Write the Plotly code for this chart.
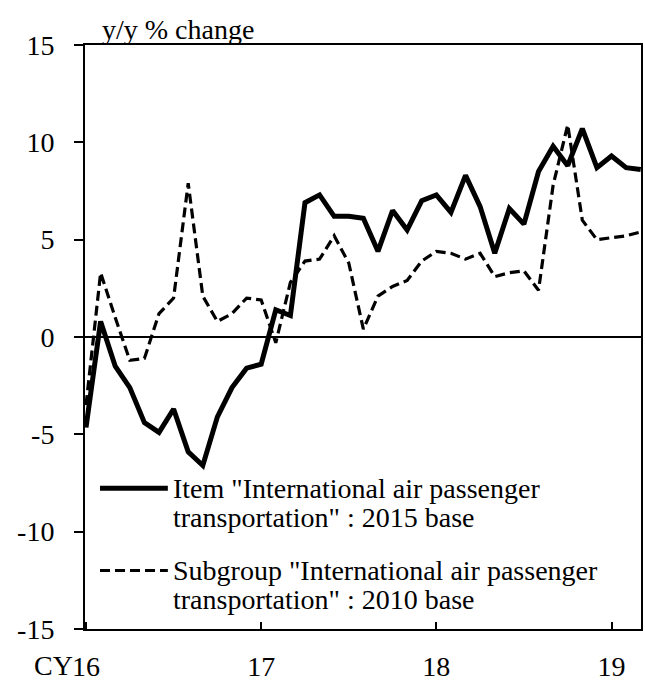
import plotly.graph_objects as go

# Monthly index: 0 = Jan 2016 ... 38 = Mar 2019
months = list(range(39))

item_2015 = [-4.65, 0.8, -1.5, -2.6, -4.4, -4.9, -3.7, -5.9, -6.6, -4.1,
             -2.6, -1.6, -1.4, 1.4, 1.1, 6.9, 7.3, 6.2, 6.2, 6.1,
             4.4, 6.5, 5.5, 7.0, 7.3, 6.4, 8.3, 6.7, 4.3, 6.6,
             5.8, 8.5, 9.8, 8.8, 10.7, 8.7, 9.3, 8.7, 8.6]

subgroup_2010 = [-3.5, 3.3, 1.0, -1.2, -1.1, 1.2, 2.0, 7.9, 2.1, 0.8,
                 1.2, 2.0, 1.9, -0.3, 2.8, 3.9, 4.0, 5.2, 3.8, 0.4,
                 2.1, 2.6, 2.9, 3.9, 4.4, 4.3, 4.0, 4.3, 3.1, 3.3,
                 3.4, 2.4, 7.8, 10.9, 6.0, 5.0, 5.1, 5.2, 5.4]

x_tickvals = [0, 12, 24, 36]
x_ticktext = ["16", "17", "18", "19"]
y_tickvals = [-15, -10, -5, 0, 5, 10, 15]
y_ticktext = ["-15", "-10", "-5", "0", "5", "10", "15"]

legend_item = ['Item "International air passenger', 'transportation" : 2015 base']
legend_sub = ['Subgroup "International air passenger', 'transportation" : 2010 base']

FONT = "Liberation Serif"
FS = 28

fig = go.Figure()
fig.add_trace(go.Scatter(x=months, y=item_2015, mode="lines",
                         name=" ".join(legend_item),
                         line=dict(color="black", width=5)))
fig.add_trace(go.Scatter(x=months, y=subgroup_2010, mode="lines",
                         name=" ".join(legend_sub),
                         line=dict(color="black", width=3.2, dash="10px,5px")))

# Manual legend (sample lines + two-line labels) inside the plot area
legend_rows = [(legend_item, 0.2411, 0.1902, "solid", 5),
               (legend_sub, 0.1002, 0.0509, "10px,5px", 3.2)]
annotations = [
    dict(text="y/y % change", xref="paper", yref="paper", x=0.027, y=1,
         xanchor="left", yanchor="bottom", showarrow=False,
         font=dict(size=FS), yshift=-2),
    dict(text="CY", xref="x", yref="paper", x=0, y=0,
         xanchor="right", yanchor="top", showarrow=False,
         font=dict(size=FS), xshift=-11, yshift=-19),
]
shapes = []
for lines, y1, y2, dash, w in legend_rows:
    shapes.append(dict(type="line", xref="paper", yref="paper",
                       x0=0.027, x1=0.149, y0=y1, y1=y1,
                       line=dict(color="black", width=w, dash=dash)))
    for txt, yy in zip(lines, (y1, y2)):
        annotations.append(dict(text=txt, xref="paper", yref="paper",
                                x=0.155, y=yy, xanchor="left", yanchor="middle",
                                showarrow=False, font=dict(size=FS)))

fig.update_layout(
    width=645, height=684,
    margin=dict(l=85, r=2, t=45, b=50),
    paper_bgcolor="white", plot_bgcolor="white",
    font=dict(family=FONT, size=FS, color="black"),
    showlegend=False,
    xaxis=dict(range=[-0.07, 38.02], tickvals=x_tickvals, ticktext=x_ticktext,
               ticks="inside", ticklen=7, tickwidth=2, tickcolor="black",
               showline=True, linecolor="black", linewidth=2, mirror=True,
               showgrid=False, zeroline=False, ticklabelstandoff=11),
    yaxis=dict(range=[-15, 15], tickvals=y_tickvals, ticktext=y_ticktext,
               ticks="outside", ticklen=9, tickwidth=2, tickcolor="black",
               showline=True, linecolor="black", linewidth=2, mirror=True,
               showgrid=False, zeroline=True, zerolinecolor="black",
               zerolinewidth=1.5, ticklabelstandoff=14),
    annotations=annotations,
    shapes=shapes,
)

fig.write_html("out.html", config={"displayModeBar": False},
               post_script="document.body.style.margin='0px';"
                           "document.body.style.overflow='hidden';")
